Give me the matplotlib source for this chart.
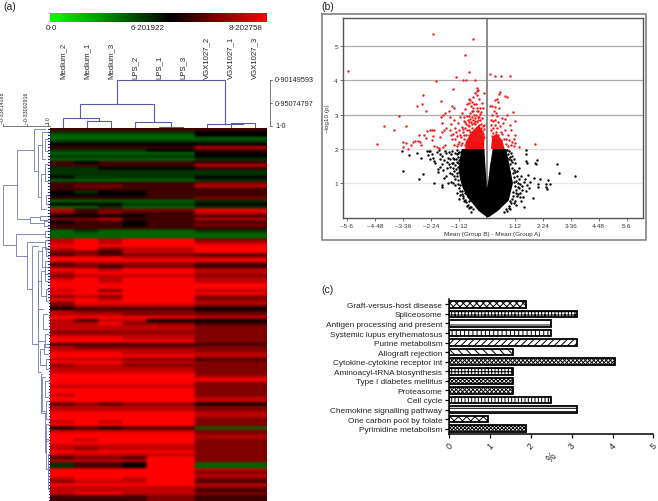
import numpy as np
import matplotlib
matplotlib.use("Agg")
import matplotlib.pyplot as plt
from matplotlib.colors import LinearSegmentedColormap

plt.rcParams['font.family'] = ['Liberation Sans', 'DejaVu Sans']
plt.rcParams['hatch.linewidth'] = 0.7

W, H = 658, 502

# ---------- (a) heat map ----------
sample_labels = ["Medium_2", "Medium_1", "Medium_3", "LPS_2", "LPS_1", "LPS_3",
                 "VGX1027_2", "VGX1027_1", "VGX1027_3"]
# one string per row: Medium_2, Medium_1, Medium_3, LPS_2, LPS_1/LPS_3, VGX (0 green, 5 black, 9 red)
heat_rows_green = [
    "666666", "444445", "333335", "333333", "444444", "555555", "666668", "444456", "333335", "444445",
    "333334", "656666", "666668", "445556", "444444", "444444", "544445", "333334", "666667", "677668",
    "666666", "545566", "555566", "666667", "333334", "555445", "334334", "867779", "767668", "555566",
    "778668", "566566", "666567", "666666", "343334", "333333", "333333",
]
heat_rows_red = [
    "898997", "898998", "999999", "897889", "776889",
    "676776", "999888", "999999", "677776", "776776", "998998", "899998", "788887", "898998", "998998",
    "999999", "999999", "897998", "999999", "787997", "998997", "799998", "788887", "566665", "877776",
    "888777", "999998",
    "868855", "889776", "888887", "888887", "777777", "888887", "999887", "999997", "666666", "877777",
    "888887", "999888", "999998", "888776", "999887", "788777", "888887", "888887", "999997", "999998",
    "999999", "999997",
    "888887", "999997", "999997", "899997", "999998", "999998", "676775", "888887", "888887", "999998",
    "999998", "999997", "898997", "999997", "565663", "888887", "999997", "999998", "989997", "999997",
    "888887", "878887", "999997", "888887", "677697", "888897", "466593", "466593", "999998", "999997",
    "999998", "899897", "788896", "999998", "888887", "888886", "899887", "666676", "666676",
]
colorbar_labels = ["0·0", "6·201922", "8·202758"]
top_scale_labels = ["0·90149593", "0·95074797", "1·0"]
left_scale_labels = ["–0·33814188", "–0·33002916", "1·0"]
# column dendrogram links: left x, right x, height y, left foot y, right foot y (figure pixels)
col_links = [
    (87, 111, 122, 129, 129), (63, 99, 119, 129, 122), (159, 183, 127.5, 129, 129),
    (135, 171, 122.5, 129, 127.5), (80.3, 153.7, 105, 119, 122.5), (231, 255, 124.3, 129, 129),
    (207, 243, 124.5, 129, 124.3), (117, 225, 81, 105, 124.5),
]
# row dendrogram brackets: x, top y, top child x, bottom y, bottom child x (figure pixels)
row_links = [
    (3, 186, 17.3, 246, 16), (17.3, 151, 34.3, 220, 29.5), (34.3, 129.5, 45, 172, 37.7),
    (37.7, 146, 42, 198, 41), (42, 133, 47, 160, 45), (45, 140, 48, 152, 48), (41, 175, 45, 210, 46),
    (45, 165, 48, 182, 48), (46, 196, 48, 205, 48), (29.5, 218, 40, 224, 44), (40, 217, 48, 221, 47),
    (44, 222, 48, 227, 48), (16, 235, 45, 257, 27), (45, 232, 48, 238, 48), (27, 243, 45, 290, 32),
    (45, 241, 48, 250, 48), (32, 247, 38, 345, 38), (38, 252, 42, 305, 37.5), (42, 248, 46, 268, 45),
    (46, 249, 48, 257, 48), (45, 262, 48, 275, 48), (37.5, 282, 41, 330, 38), (41, 272, 45, 297, 46),
    (45, 268, 48, 282, 48), (46, 290, 48, 302, 48), (38, 310, 43, 342, 45), (43, 315, 47, 330, 47),
    (45, 335, 48, 348, 48), (38, 342, 40, 373, 41), (40, 350, 44, 366, 46), (44, 345, 48, 355, 48),
    (46, 360, 48, 370, 48), (41, 375, 42, 414, 45), (42, 378, 45, 412, 46), (45, 382, 48, 398, 48),
    (46, 402, 48, 420, 48), (45, 414, 46, 453, 46), (46, 425, 48, 442, 48), (46, 440, 48, 470, 49),
    (48, 455, 49, 490, 49),
]

# ---------- (b) volcano ----------
volcano_xticks = [-5.6, -4.48, -3.36, -2.24, -1.12, 1.12, 2.24, 3.36, 4.48, 5.6]
volcano_xlabels = ["–5·6", "–4·48", "–3·36", "–2·24", "–1·12", "1·12", "2·24", "3·36", "4·48", "5·6"]
volcano_yticks = [1, 2, 3, 4, 5]
mass_x = [0.0, -0.33, -0.55, -0.78, -0.95, -1.06, -1.12, -1.08, -1.0, -0.09, -0.05, 0.0, 0.0, 0.05, 0.13, 0.24,
          0.78, 0.92, 1.05, 0.88, 0.45, 0.1]
mass_y = [0.02, 0.2, 0.4, 0.6, 0.85, 1.1, 1.4, 1.7, 2.0, 2.0, 1.5, 1.0, 0.85, 1.0, 1.5, 2.0,
          2.0, 1.5, 1.0, 0.5, 0.2, 0.02]
red_core_left_x = [-0.85, -0.1, -0.1, -0.32, -0.6, -0.85]
red_core_left_y = [2.0, 2.0, 2.45, 2.7, 2.5, 2.2]
red_core_right_x = [0.17, 0.72, 0.62, 0.4, 0.22]
red_core_right_y = [2.0, 2.0, 2.25, 2.45, 2.35]
red_points = [
    (-5.56, 4.27), (-2.16, 5.34), (-0.55, 5.21), (-0.88, 4.74), (-0.71, 4.24), (-2.03, 3.98), (-1.24, 4.10),
    (-0.96, 4.0), (-0.83, 4.01), (-0.47, 4.01), (0.15, 4.17), (0.33, 4.12), (0.57, 4.13), (0.95, 4.11),
    (-1.33, 3.75), (-2.56, 3.57), (-1.83, 3.39), (-2.59, 3.3), (-2.79, 3.25), (-2.41, 3.11), (-3.49, 2.95),
    (-4.11, 2.68), (-3.24, 2.68), (-3.71, 2.55), (-4.37, 2.15), (1.93, 2.14), (1.29, 2.07),
    (-3.35, 2.2), (-3.23, 2.16), (-3.13, 2.0), (-3.04, 2.13), (-2.93, 2.19), (-2.87, 2.24), (-2.72, 2.41),
    (-2.73, 2.24), (-2.67, 2.19), (-2.63, 2.11), (-2.51, 2.41), (-2.4, 2.53), (-2.27, 2.56), (-2.2, 2.56),
    (-2.11, 2.56), (-2.43, 2.31), (-2.19, 2.25), (-2.13, 2.37), (-2.09, 2.09), (-2.0, 2.07), (-3.33, 2.07),
    (-1.9, 2.03), (-1.75, 2.06), (-1.65, 2.12), (-1.85, 2.35), (-1.8, 2.48), (-1.72, 2.55), (-1.78, 2.75),
    (-1.62, 2.62), (-1.83, 2.92), (-1.75, 2.98), (-1.65, 3.05), (-1.5, 3.1), (-1.4, 3.25), (-1.3, 3.2),
    (-1.45, 2.92), (-1.3, 2.85), (-1.42, 2.72), (-1.48, 2.55), (-1.42, 2.4), (-1.38, 2.28), (-1.25, 2.62),
    (-1.3, 2.12), (-1.18, 2.38), (-1.2, 2.08), (-1.12, 2.55), (-1.1, 2.2), (-1.15, 2.75), (-1.08, 2.92),
    (-1.03, 2.35), (-1.0, 2.65), (-0.98, 3.05), (-0.97, 2.18), (-0.95, 2.48), (-0.92, 2.82), (-0.9, 2.3),
    (-0.88, 2.62), (-0.85, 3.15), (-0.85, 2.12), (-0.83, 2.42), (-0.82, 2.72), (-0.8, 2.95), (-0.8, 3.32),
    (-0.78, 2.55), (-0.76, 2.25), (-0.74, 2.85), (-0.72, 3.35), (-0.72, 2.4), (-0.7, 3.46), (-0.7, 2.68),
    (-0.68, 2.18), (-0.67, 3.05), (-0.65, 3.42), (-0.65, 2.5), (-0.63, 2.78), (-0.62, 3.25), (-0.6, 2.3),
    (-0.6, 2.93), (-0.58, 3.38), (-0.58, 2.62), (-0.56, 2.42), (-0.55, 3.52), (-0.55, 3.2), (-0.54, 2.85),
    (-0.52, 2.22), (-0.5, 2.55), (-0.5, 3.0), (-0.48, 2.72), (-0.47, 2.35), (-0.45, 3.62), (-0.45, 2.9),
    (-0.44, 2.48), (-0.43, 3.3), (-0.42, 2.62), (-0.4, 3.7), (-0.4, 2.28), (-0.4, 3.1), (-0.38, 3.58),
    (-0.38, 2.78), (-0.37, 3.78), (-0.36, 2.45), (-0.35, 2.93), (-0.34, 2.58), (-0.33, 3.73), (-0.32, 2.32),
    (-0.3, 3.45), (-0.3, 2.7), (-0.28, 2.5), (-0.27, 3.02), (-0.26, 2.24), (-0.25, 2.85), (-0.23, 2.4),
    (-0.22, 2.62), (-0.2, 3.35), (-0.2, 2.3), (-0.18, 2.52), (-0.17, 2.9), (-0.15, 2.28), (-0.14, 3.2),
    (-0.13, 2.45), (-0.12, 3.63), (-0.11, 2.7), (-0.1, 2.36),
    (-0.92, 2.92), (-0.87, 2.78), (-0.76, 2.7), (-0.7, 2.96), (-0.66, 2.87), (-0.59, 2.72), (-0.53, 3.1),
    (-0.52, 2.76), (-0.46, 2.82), (-0.43, 3.0), (-0.37, 3.2), (-0.33, 2.83), (-0.29, 2.92), (-0.24, 2.72),
    (-0.21, 3.08), (-0.16, 2.66), (-0.12, 2.58), (-0.94, 2.58), (-1.02, 2.12), (-1.06, 2.42), (-0.89, 2.42),
    (-0.72, 2.56), (-0.69, 2.78), (-0.5, 3.3), (-0.6, 3.1), (-0.34, 3.1), (-0.25, 3.2), (-1.15, 2.15),
    (-1.25, 2.28), (-1.33, 2.45), (-1.22, 2.48),
    (0.55, 3.65), (0.5, 3.6), (0.75, 3.55), (0.8, 3.52), (0.4, 3.45), (0.33, 3.42), (0.47, 3.38), (0.15, 3.24),
    (0.22, 3.24), (0.35, 3.22), (0.5, 3.2), (0.3, 3.1), (0.38, 3.05), (0.2, 2.98), (0.42, 2.95), (0.18, 2.85),
    (0.25, 2.8), (0.35, 2.85), (0.47, 2.78), (0.8, 2.98), (0.72, 2.88), (1.05, 3.08), (0.62, 2.9), (1.12, 2.82),
    (0.18, 2.7), (0.24, 2.62), (0.33, 2.7), (0.42, 2.6), (0.52, 2.66), (0.66, 2.75), (0.92, 2.7), (0.98, 2.55),
    (0.17, 2.55), (0.27, 2.46), (0.37, 2.5), (0.46, 2.42), (0.56, 2.5), (0.63, 2.44), (0.72, 2.55), (0.85, 2.42),
    (1.15, 2.4), (1.1, 2.3), (0.2, 2.38), (0.3, 2.36), (0.4, 2.33), (0.5, 2.3), (0.58, 2.26), (0.68, 2.3),
    (0.78, 2.28), (0.9, 2.25), (1.02, 2.2), (0.76, 2.14), (0.86, 2.08), (0.96, 2.12), (1.08, 2.1), (1.14, 2.18),
]
black_points = [
    (-3.4, 1.94), (-3.35, 1.36), (-3.09, 1.82), (-2.77, 1.89), (-2.63, 1.74), (-2.69, 1.14), (-2.56, 1.27),
    (-2.09, 1.01), (-2.4, 1.95), (-2.3, 1.93), (-2.25, 1.95), (-2.35, 1.82), (-2.28, 1.72), (-2.15, 1.75),
    (-2.12, 1.65), (-2.05, 1.6), (-2.2, 1.86), (-2.0, 1.92), (-1.92, 1.96), (-1.88, 1.85), (-1.85, 1.72),
    (-1.95, 1.42), (-1.93, 1.33), (-1.87, 1.48), (-1.8, 1.55), (-1.77, 1.8), (-1.72, 1.68), (-1.75, 1.4),
    (-1.7, 1.15), (-1.77, 0.95), (-1.78, 0.9), (-1.65, 1.95), (-1.6, 1.45), (-1.62, 1.2), (-1.55, 1.75),
    (-1.5, 1.55), (-1.55, 1.02), (-1.45, 1.3), (-1.42, 1.85), (-1.4, 1.6), (-1.42, 1.05), (-1.35, 1.45),
    (-1.3, 1.7), (-1.32, 1.2), (-1.25, 0.95), (-1.25, 1.52), (-1.2, 1.85), (-1.2, 1.3), (-1.18, 0.72),
    (-1.15, 1.6), (-1.13, 1.1), (-1.12, 0.55), (-1.1, 0.85), (-1.1, 1.92), (-1.05, 0.65), (-1.0, 0.78),
    (-0.95, 0.62), (-0.92, 0.48), (-0.85, 0.72), (-0.8, 0.35), (-0.72, 0.28), (-0.62, 0.18), (-0.7, 0.48),
    (-1.62, 1.88), (-1.58, 1.62), (-1.52, 1.9), (-1.48, 1.72), (-1.46, 1.48), (-1.38, 1.94), (-1.36, 1.75),
    (-1.34, 1.58), (-1.3, 1.36), (-1.28, 1.88), (-1.27, 1.12), (-1.24, 1.72), (-1.22, 1.42), (-1.2, 1.62),
    (-1.18, 1.98), (-1.17, 1.2), (-1.16, 1.78), (-1.15, 1.48), (-1.14, 0.98), (-1.13, 1.88), (-1.12, 1.68),
    (-1.1, 1.32), (-1.08, 0.95), (-1.06, 0.78), (-1.04, 1.9), (-0.98, 0.68), (-0.93, 0.58), (-0.88, 0.52),
    (-0.82, 0.45), (-0.76, 0.38), (-0.68, 0.32), (-0.62, 0.3), (-0.55, 0.25), (-1.34, 1.02), (-1.38, 1.28),
    (0.8, 1.98), (0.85, 1.86), (0.88, 1.94), (0.92, 1.78), (0.96, 1.68), (0.98, 1.88), (1.0, 1.45), (1.03, 1.62),
    (1.05, 1.3), (1.08, 1.72), (1.1, 1.18), (1.12, 0.92), (1.14, 1.32), (1.16, 0.82), (1.18, 1.08), (1.2, 0.62),
    (1.22, 1.35), (1.24, 0.9), (1.26, 0.7), (1.28, 1.12), (1.32, 0.6), (1.34, 0.98), (1.36, 0.5), (1.4, 0.8),
    (1.04, 0.62), (1.08, 0.42), (0.98, 0.42), (0.94, 0.5), (0.88, 0.28), (0.76, 0.26), (0.7, 0.18), (1.16, 0.38),
    (0.75, 1.9), (0.8, 1.75), (0.9, 1.72), (0.95, 1.55), (1.02, 1.8), (1.08, 1.4), (1.15, 1.58), (1.2, 1.2),
    (1.1, 1.05), (1.25, 1.0), (1.3, 0.85), (1.18, 0.72), (1.05, 0.75), (1.0, 0.55), (1.12, 0.5), (0.9, 0.35),
    (0.95, 0.25), (0.8, 0.2), (1.35, 0.72), (1.42, 0.92), (1.48, 1.05), (1.38, 1.22), (1.28, 1.45), (1.45, 0.6),
    (1.49, 0.31), (1.56, 0.78), (1.55, 1.12), (1.56, 1.96), (1.56, 1.84), (1.57, 1.65), (1.63, 1.58), (1.67, 1.23),
    (1.6, 0.95), (1.68, 0.85), (1.73, 1.04), (1.87, 0.58), (1.89, 1.15), (1.97, 1.55), (1.93, 1.6), (2.0, 1.68),
    (2.05, 0.99), (2.05, 0.9), (2.15, 1.12), (2.36, 0.89), (2.37, 0.97), (2.4, 0.83), (2.44, 1.1), (2.55, 0.97),
    (2.81, 1.56), (2.91, 1.3), (3.53, 1.21),
]
# ---------- (c) pathways ----------
pathways = ["Graft-versus-host disease", "Spliceosome", "Antigen processing and present",
            "Systemic lupus erythematosus", "Purine metabolism", "Allograft rejection",
            "Cytokine-cytokine receptor int", "Aminoacyl-tRNA biosynthesis", "Type I diabetes mellitus",
            "Proteasome", "Cell cycle", "Chemokine signalling pathway", "One carbon pool by folate",
            "Pyrimidine metabolism"]
percent = [1.88, 3.12, 2.5, 2.5, 3.12, 1.56, 4.05, 1.56, 1.56, 1.56, 2.5, 3.12, 0.94, 1.88]
hatches = ["xxxxx", "+++++", "---", "||||", "/////", "\\\\\\\\", "xxxxxxxx", "+++++", "xxxxxxxx", "xxxxxxxx",
           "|||||", "-----", "xxxx", "xxxxxxxxx"]

fig = plt.figure(figsize=(W / 100, H / 100), dpi=100)


def px_axes(x0, y0, x1, y1):
    return fig.add_axes([x0 / W, 1 - y1 / H, (x1 - x0) / W, (y1 - y0) / H])


canvas = fig.add_axes([0, 0, 1, 1])
canvas.set_xlim(0, W)
canvas.set_ylim(H, 0)
canvas.axis("off")

cmap = LinearSegmentedColormap.from_list("gbr", [(0, "#00ff00"), (5 / 9, "#000000"), (1, "#ff0000")])
heat_rows = heat_rows_green + heat_rows_red
order = [0, 1, 2, 3, 4, 4, 5, 5, 5]
matrix = np.array([[int(r[i]) for i in order] for r in heat_rows], dtype=float)
ax_heat = px_axes(50, 129, 267, 502)
ax_heat.imshow(np.repeat(matrix, 8, axis=1), cmap=cmap, vmin=0, vmax=9, aspect="auto",
               interpolation="gaussian", interpolation_stage="rgba")
ax_heat.axis("off")

ax_bar = px_axes(50, 14, 267, 23)
ax_bar.imshow(np.linspace(0, 1, 256)[None, :], cmap=cmap, aspect="auto")
ax_bar.axis("off")
for x, s in zip([51, 148, 246], colorbar_labels):
    canvas.text(x, 28.5, s, fontsize=5.8, ha="center", va="center", color="#222222")

DEND = "#7474b8"
for x, s in zip([63, 87, 111, 135, 159, 183, 207, 231, 255], sample_labels):
    canvas.text(x, 79, s, fontsize=5.6, rotation=90, ha="center", va="bottom", color="#222222")
for x1, x2, y, f1, f2 in col_links:
    canvas.plot([x1, x1, x2, x2], [f1, y, y, f2], color="#5a5aa8", lw=0.8, solid_joinstyle="miter")
for x, yt, xt, yb, xb in row_links:
    canvas.plot([xt, x, x, xb], [yt, yt, yb, yb], color=DEND, lw=0.6, solid_joinstyle="miter")
row_h = 373 / len(heat_rows)
for i in range(len(heat_rows)):
    y = 129 + (i + 0.5) * row_h
    start = 47.5 if y < 300 else 48.8
    canvas.plot([start, 50], [y, y], color="#28289c", lw=0.8)

canvas.plot([270, 270], [81, 127], color="#444444", lw=0.5)
for y, s in zip([81, 104, 127], top_scale_labels):
    canvas.plot([270, 272], [y, y], color="#444444", lw=0.5)
    canvas.text(275, y, s, fontsize=5.2, va="center", ha="left", color="#222222")
canvas.plot([3, 50], [127, 127], color="#444444", lw=0.5)
for x, s in zip([3, 27, 48], left_scale_labels):
    canvas.plot([x, x], [125, 127], color="#444444", lw=0.5)
    canvas.text(x, 124, s, fontsize=3.8, rotation=90, va="bottom", ha="center", color="#222222")

canvas.text(3, 7, "(a)", fontsize=7.5, va="center", color="#222222")
canvas.text(321, 7, "(b)", fontsize=7.5, va="center", color="#222222")
canvas.text(321, 290, "(c)", fontsize=7.5, va="center", color="#222222")

# Volcano frame
canvas.plot([322, 646, 646, 322, 322], [15, 15, 241, 241, 15], color="#8c8c8c", lw=1.3)
ax_v = px_axes(342.7, 18.7, 642.7, 218.7)
ax_v.set_xlim(-5.76, 6.24)
ax_v.set_ylim(0, 5.82)
for y, c in zip(volcano_yticks, ["#e6e6e6", "#dedede", "#ababab", "#ababab", "#ababab"]):
    ax_v.axhline(y, color=c, lw=0.9, zorder=1)
ax_v.axvline(0, color="#8a8a8a", lw=1.4, zorder=1)
ax_v.fill(mass_x, mass_y, color="black", lw=0, zorder=2)
bx, by = zip(*black_points)
ax_v.scatter(bx, by, s=3.0, color="black", marker="o", lw=0, zorder=3)
ax_v.fill(red_core_left_x, red_core_left_y, color="#f01010", lw=0, zorder=2)
ax_v.fill(red_core_right_x, red_core_right_y, color="#f01010", lw=0, zorder=2)
rx, ry = zip(*red_points)
ax_v.scatter(rx, ry, s=3.0, color="#ee1c1c", marker="o", lw=0, zorder=3)
ax_v.set_xticks(volcano_xticks)
ax_v.set_xticklabels(volcano_xlabels)
ax_v.set_yticks(volcano_yticks)
ax_v.tick_params(labelsize=4.6, length=2, width=0.5, pad=1.5, colors="#333333")
for sp in ax_v.spines.values():
    sp.set_color("#555555")
    sp.set_linewidth(1.0)
ax_v.set_xlabel("Mean (Group B) - Mean (Group A)", fontsize=4.6, labelpad=2.5, color="#333333")
ax_v.set_ylabel("–log10 (p)", fontsize=4.6, labelpad=3, color="#333333")

# Bars
ax_c = px_axes(449.3, 300, 653.3, 435)
ypos = np.arange(len(pathways))
ax_c.barh(ypos, percent, height=0.68, color="white", edgecolor="black", linewidth=1.3,
          hatch=hatches, zorder=2)
ax_c.set_ylim(len(pathways) - 0.44, -0.56)
ax_c.set_xlim(0, 5)
ax_c.set_yticks(ypos)
ax_c.set_yticklabels(pathways, fontsize=5.95, color="#222222")
ax_c.set_xticks(range(6))
ax_c.set_xticklabels([str(i) for i in range(6)], rotation=45, fontsize=6.5, color="#222222", ha="center")
ax_c.tick_params(axis="y", length=3, width=0.9, pad=2)
ax_c.tick_params(axis="x", length=3, width=0.9, pad=1.5)
ax_c.spines["top"].set_visible(False)
ax_c.spines["right"].set_visible(False)
ax_c.spines["left"].set_linewidth(1.1)
ax_c.spines["bottom"].set_linewidth(1.1)
ax_c.set_xlabel("%", fontsize=7, rotation=45, labelpad=0, color="#222222")

fig.savefig("out.png", dpi=100)
